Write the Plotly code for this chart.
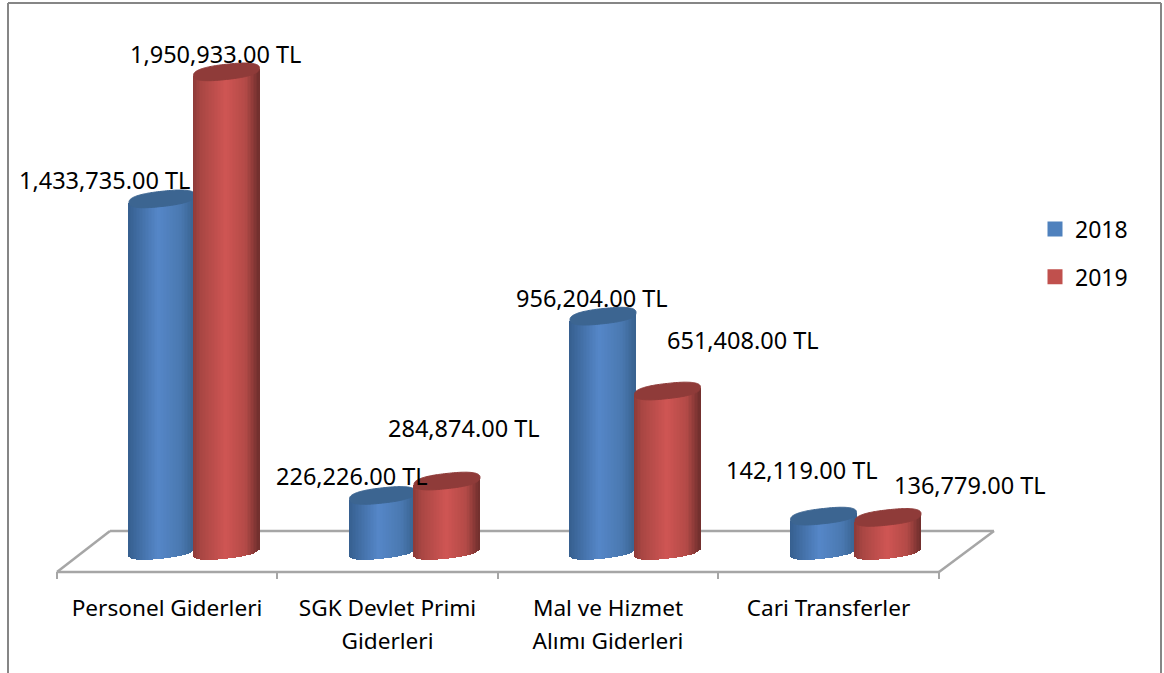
import math
import plotly.graph_objects as go

# ---- data ----
CATEGORIES = ["Personel Giderleri", "SGK Devlet Primi<br>Giderleri", "Mal ve Hizmet<br>Alımı Giderleri", "Cari Transferler"]
SERIES_NAMES = ["2018", "2019"]
VALUES_2018 = [1433735, 226226, 956204, 142119]
VALUES_2019 = [1950933, 284874, 651408, 136779]

# ---- styles ----
W, H = 1164, 673
FONT = "Noto Sans"
FS_LABEL = 23.5
FS_TICK = 22.6
FS_LEGEND = 23
TEXT = "#000000"
GREY = "#a6a6a6"
BORDER = "#868686"
LEGEND_COLORS = ["#4f81bd", "#c0504d"]
BLUE_STOPS = [(0, "#365f8f"), (0.12, "#3e6a9e"), (0.45, "#5587c8"), (0.8, "#4a78b0"), (1, "#38628f")]
RED_STOPS = [(0, "#8c3a38"), (0.12, "#a84643"), (0.5, "#cf5553"), (0.8, "#b34a47"), (1, "#6f2e2c")]
TOP_COLORS = ["#3c6591", "#8f3b39"]
LABEL_SHIFTS = [[(-58, 19), (-31, 19), (-11, 18), (-22, 46)],
                [(-11, 18), (17, 53), (75, 51), (82, 32)]]

# pixel geometry of the axes (figure fills the window)
PX_PER_CAT = 220.5
CAT0_PX = 167.0
BASE_PX = 551.0
PX_PER_VAL = 0.0002456
XR = [(0 - CAT0_PX) / PX_PER_CAT, (W - CAT0_PX) / PX_PER_CAT]
YR = [(BASE_PX - H) / PX_PER_VAL, BASE_PX / PX_PER_VAL]


def xv(px):
    return (px - CAT0_PX) / PX_PER_CAT


def yv(py):
    return (BASE_PX - py) / PX_PER_VAL


OFFSETS = [-5.0 / PX_PER_CAT, 59.5 / PX_PER_CAT]
A = 33.0 / PX_PER_CAT
B = 7.6 / PX_PER_VAL
K = 3.6 / PX_PER_VAL
ROUND = 0.8  # below 1 makes the cylinder caps blunter at their ends
N_STRIPS = 44
TUCK = 1.5 / PX_PER_VAL  # body runs this far under its cap


def hex2rgb(h):
    return tuple(int(h[i:i + 2], 16) for i in (1, 3, 5))


def ramp(stops, f):
    for (f0, c0), (f1, c1) in zip(stops, stops[1:]):
        if f <= f1:
            t = (f - f0) / (f1 - f0)
            a, b = hex2rgb(c0), hex2rgb(c1)
            return "rgb(%d,%d,%d)" % tuple(round(a[j] + (b[j] - a[j]) * t) for j in range(3))
    return stops[-1][1]


def spow(x):
    return math.copysign(abs(x) ** ROUND, x)


def body_trace(values, offset, stops, xa, ya):
    xs, bases, heights, colors = [], [], [], []
    for i, v in enumerate(values):
        for s in range(N_STRIPS):
            f = (s + 0.5) / N_STRIPS
            u = 2 * f - 1
            c = abs(u) ** (1 / ROUND)
            sag = K * u - B * (1 - c * c) ** (ROUND / 2)
            xs.append(i + offset + A * u)
            bases.append(sag)
            heights.append(v + TUCK)
            colors.append(ramp(stops, f))
    return go.Bar(x=xs, y=heights, base=bases, width=2 * A / N_STRIPS * 1.15, marker=dict(color=colors, line=dict(width=0)),
                  showlegend=False, hoverinfo="skip", xaxis=xa, yaxis=ya)


def top_trace(values, offset, color, xa, ya):
    xs, ys = [], []
    for i, v in enumerate(values):
        for s in range(145):
            t = s / 144 * 2 * math.pi
            cx = spow(math.cos(t))
            xs.append(i + offset + A * cx)
            ys.append(v + B * spow(math.sin(t)) + K * cx)
        xs.append(None)
        ys.append(None)
    return go.Scatter(x=xs, y=ys, mode="lines", fill="toself", fillcolor=color,
                      line=dict(width=1, color=color, simplify=False),
                      showlegend=False, hoverinfo="skip", xaxis=xa, yaxis=ya)


fig = go.Figure()
SERIES = [VALUES_2018, VALUES_2019]
STOPS = [BLUE_STOPS, RED_STOPS]
AXES = [("x", "y"), ("x2", "y2")]
for k, values in enumerate(SERIES):
    xa, ya = AXES[k]
    fig.add_trace(body_trace(values, OFFSETS[k], STOPS[k], xa, ya))
    fig.add_trace(top_trace(values, OFFSETS[k], TOP_COLORS[k], xa, ya))
for k, name in enumerate(SERIES_NAMES):
    fig.add_trace(go.Scatter(x=[None], y=[None], mode="markers", name=name, legendgroup=name,
                             marker=dict(symbol="square", size=15, color=LEGEND_COLORS[k]), xaxis="x", yaxis="y"))
# keeps the axis carrying the second label lines alive
fig.add_trace(go.Scatter(x=[None], y=[None], mode="markers", showlegend=False, hoverinfo="skip", xaxis="x3", yaxis="y"))

# floor and axis ticks
shapes = []


def line(x0, y0, x1, y1, color=GREY, width=2.5):
    shapes.append(dict(type="line", xref="x", yref="y", layer="below", x0=xv(x0), y0=yv(y0), x1=xv(x1), y1=yv(y1),
                       line=dict(color=color, width=width)))


line(57, 572, 939, 572)
line(57, 572, 110, 531)
line(110, 531, 994, 531)
line(994, 531, 939, 572)
for tick_px in [57, 277, 498, 718, 939]:
    line(tick_px, 572, tick_px, 579, width=2)

# chart border (bottom edge runs out of the window)
for (x0, y0, x1, y1) in [(8, 3, 1161, 3), (8, 3, 8, H), (1161, 3, 1161, H)]:
    shapes.append(dict(type="line", xref="paper", yref="paper", x0=x0 / W, y0=1 - y0 / H, x1=x1 / W, y1=1 - y1 / H,
                       line=dict(color=BORDER, width=2)))

# data labels
annotations = []
for k, values in enumerate(SERIES):
    for i, v in enumerate(values):
        dx, dy = LABEL_SHIFTS[k][i]
        annotations.append(dict(x=i + OFFSETS[k], y=v, xref="x", yref="y", text=f"{v:,.2f} TL", showarrow=False,
                                xshift=dx, yshift=dy, font=dict(family=FONT, size=FS_LABEL, color=TEXT)))

first_lines = [c.split("<br>")[0] for c in CATEGORIES]
second_vals = [i for i, c in enumerate(CATEGORIES) if "<br>" in c]
second_lines = [CATEGORIES[i].split("<br>")[1] for i in second_vals]

common_x = dict(range=XR, domain=[0, 1], showgrid=False, zeroline=False, showline=False, ticks="", fixedrange=True)
fig.update_layout(
    width=W, height=H, margin=dict(l=0, r=0, t=0, b=0), paper_bgcolor="#ffffff", plot_bgcolor="#ffffff",
    barmode="overlay", bargap=0, showlegend=True, shapes=shapes, annotations=annotations,
    font=dict(family=FONT, size=FS_TICK, color=TEXT),
    xaxis=dict(common_x, anchor="free", position=1 - 592 / H, tickmode="array", tickvals=list(range(len(CATEGORIES))),
               ticktext=first_lines, tickfont=dict(family=FONT, size=FS_TICK, color=TEXT)),
    xaxis2=dict(common_x, overlaying="x", visible=False, anchor="y2"),
    xaxis3=dict(common_x, overlaying="x", anchor="free", position=1 - 625 / H, tickmode="array", tickvals=second_vals,
                ticktext=second_lines, tickfont=dict(family=FONT, size=FS_TICK, color=TEXT)),
    yaxis=dict(range=YR, domain=[0, 1], visible=False, fixedrange=True),
    yaxis2=dict(range=YR, domain=[0, 1], visible=False, fixedrange=True, overlaying="y", anchor="x2"),
    legend=dict(x=1035 / W, y=1 - 207.5 / H, xanchor="left", yanchor="top", traceorder="grouped", tracegroupgap=15,
                bgcolor="rgba(0,0,0,0)", font=dict(family=FONT, size=FS_LEGEND, color=TEXT), itemsizing="trace"),
)

fig.write_html("out.html", config=dict(displayModeBar=False), post_script="document.body.style.margin='0';document.documentElement.style.overflow='hidden';")
